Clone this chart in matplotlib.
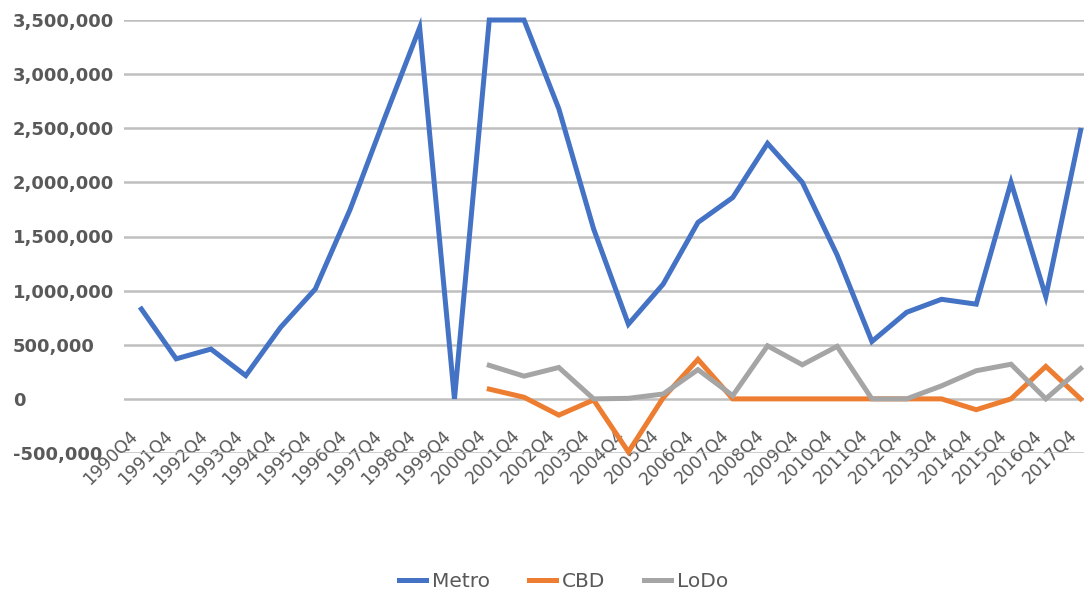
import numpy as np
import matplotlib
matplotlib.use("Agg")
import matplotlib.pyplot as plt
from matplotlib.ticker import FuncFormatter

quarters = [f"{y}Q4" for y in range(1990, 2018)]

metro = [830000, 370000, 460000, 215000, 660000, 1015000, 1750000, 2600000,
         3430000, 0, 3500000, 3500000, 2680000, 1570000, 690000, 1060000,
         1630000, 1860000, 2360000, 2000000, 1330000, 530000, 800000, 920000,
         875000, 2000000, 945000, 2480000]

cbd = [np.nan] * 10 + [90000, 15000, -150000, -10000, -490000, 10000,
                       365000, 0, 0, 0, 0, 0, 0, 0,
                       -100000, 0, 300000, 0]

lodo = [np.nan] * 10 + [310000, 210000, 290000, 0, 5000, 45000,
                        270000, 30000, 490000, 315000, 485000, 0, 0, 120000,
                        260000, 320000, 0, 280000]

BLUE = "#4472C4"
ORANGE = "#ED7D31"
GREY = "#A5A5A5"
TEXT = "#595959"
GRID = "#BFBFBF"

fig = plt.figure(figsize=(10.84, 5.94), dpi=100)
ax = fig.add_axes([124 / 1084, (594 - 453) / 594, (1098 - 124) / 1084, 433 / 594])

x = np.arange(len(quarters))
for vals, col, name in [(metro, BLUE, "Metro"), (cbd, ORANGE, "CBD"), (lodo, GREY, "LoDo")]:
    ax.plot(x, vals, color=col, lw=3.6, label=name, clip_on=False,
            solid_joinstyle="miter", zorder=3)

ax.set_xlim(-0.5, len(quarters) - 0.5)
ax.set_ylim(-500000, 3500000)
ax.set_yticks(np.arange(-500000, 3500001, 500000))
ax.yaxis.set_major_formatter(FuncFormatter(lambda v, p: f"{int(v):,}"))
ax.grid(axis="y", color=GRID, lw=1.8, zorder=0)
ax.set_axisbelow(True)

for s in ax.spines.values():
    s.set_visible(False)
# category labels sit on the zero line, like the spreadsheet axis
ax.spines["bottom"].set_position(("data", 0))

ax.set_xticks(x)
ax.set_xticklabels(quarters, rotation=45, ha="right", va="top",
                   fontsize=12.5, color=TEXT)
ax.tick_params(axis="x", length=0, pad=20)
ax.tick_params(axis="y", length=0, pad=80, labelsize=13, labelcolor=TEXT)
for lab in ax.get_yticklabels():
    lab.set_horizontalalignment("left")
    lab.set_fontweight("bold")

leg = fig.legend(loc="lower center", bbox_to_anchor=(0.52, -0.025), ncol=3,
                 frameon=False, fontsize=14.5, handlelength=1.35,
                 handletextpad=0.3, columnspacing=1.9)
for t in leg.get_texts():
    t.set_color(TEXT)

fig.savefig("out.png", dpi=100)
